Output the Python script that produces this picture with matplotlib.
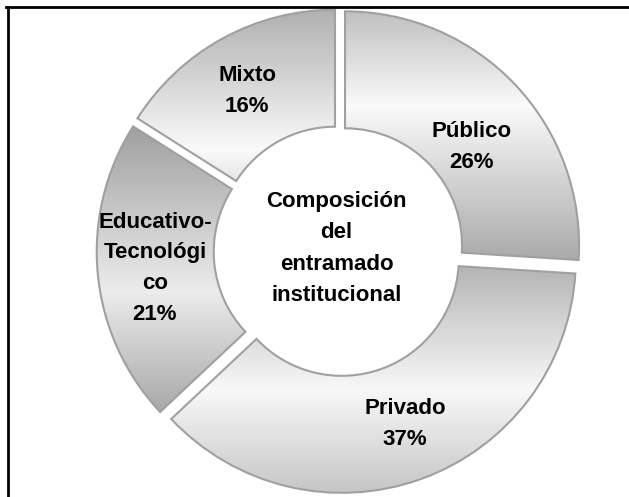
import numpy as np
import matplotlib
matplotlib.use("Agg")
import matplotlib.pyplot as plt
from matplotlib.colors import LinearSegmentedColormap

labels = ["Público", "Privado", "Educativo-\nTecnológi\nco", "Mixto"]
shares = [26, 37, 21, 16]
center_title = "Composición\ndel\nentramado\ninstitucional"

plt.rcParams['font.family'] = ['Liberation Sans', 'DejaVu Sans']

W, H = 629, 497
fig = plt.figure(figsize=(W / 100, H / 100), dpi=100)
ax = fig.add_axes([0, 0, 1, 1])

R = 234.0
cx, cy = 339.0, 251.0
explode = [8.3 / R] * len(shares)

wedges, _ = ax.pie(shares, startangle=90, counterclock=False, explode=explode,
                   radius=1.0, wedgeprops=dict(width=0.5, edgecolor='#a0a0a0', linewidth=1.5),
                   frame=True)

ax.set_xlim((0 - cx) / R, (W - cx) / R)
ax.set_ylim((cy - H) / R, cy / R)
ax.set_aspect('auto')
ax.axis('off')

stops = [
    [(0.0, '#c0c0c0'), (0.38, '#fafafa'), (1.0, '#aaaaaa')],   # Público
    [(0.0, '#b0b0b0'), (0.55, '#f8f8f8'), (1.0, '#c4c4c4')],   # Privado
    [(0.0, '#a0a0a0'), (0.58, '#ececec'), (1.0, '#a8a8a8')],   # Educativo
    [(0.0, '#b0b0b0'), (0.60, '#fafafa'), (1.0, '#bcbcbc')],   # Mixto
]
for w, st in zip(wedges, stops):
    w.set_facecolor('none')
    path = w.get_path()
    verts = w.get_transform().transform(path.vertices)
    bb = ax.transData.inverted().transform(verts)
    x0, x1 = bb[:, 0].min(), bb[:, 0].max()
    y0, y1 = bb[:, 1].min(), bb[:, 1].max()
    cmap = LinearSegmentedColormap.from_list('g', st)
    grad = np.linspace(0, 1, 256).reshape(-1, 1)
    im = ax.imshow(grad, cmap=cmap, extent=(x0, x1, y0, y1), origin='upper',
                   aspect='auto', zorder=1, interpolation='bilinear')
    im.set_clip_path(w)
    w.set_zorder(2)

ax.set_xlim((0 - cx) / R, (W - cx) / R)
ax.set_ylim((cy - H) / R, cy / R)

label_r = [0.72, 0.79, 0.79, 0.79]
label_dtheta = [-5.0, 1.2, 0.0, 1.0]
for w, lab, s, r, dth in zip(wedges, labels, shares, label_r, label_dtheta):
    th = np.deg2rad((w.theta1 + w.theta2) / 2 + dth)
    ax.text(r * np.cos(th), r * np.sin(th), f"{lab}\n{s}%", ha='center', va='center',
            fontsize=16, fontweight='bold', linespacing=1.62, zorder=5)

ax.text(-0.01, 0.01, center_title, ha='center', va='center', fontsize=16,
        fontweight='bold', linespacing=1.65, zorder=5)

# outer frame (left and top only)
fig.add_artist(plt.Line2D([7.5 / W, 7.5 / W], [0, 1 - 6.5 / H], color='black', lw=2, transform=fig.transFigure))
fig.add_artist(plt.Line2D([6.5 / W, 1.0], [1 - 6.5 / H, 1 - 6.5 / H], color='black', lw=2, transform=fig.transFigure))

fig.savefig('out.png', dpi=100)
